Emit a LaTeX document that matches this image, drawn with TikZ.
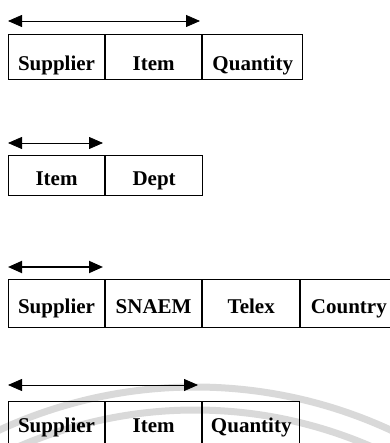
\documentclass[tikz,border=0pt]{standalone}
\usepackage{fontspec}
\setmainfont{Liberation Serif}
\usetikzlibrary{arrows.meta}
\tikzset{
  x=1pt, y=-1pt,
  cell/.style n args={3}{draw=black, line width=1.1pt, inner sep=0pt, anchor=north west,
    minimum width=#1, text height=#2, text depth=#3,
    font=\fontsize{21}{24}\selectfont\bfseries},
  span/.style={{Triangle[length=14pt,width=12pt]}-{Triangle[length=14pt,width=12pt]}, line width=0.8pt},
  spanbold/.style={span, line width=1.8pt},
  faint/.style={draw=black!15, line width=7pt}
}
\begin{document}
\begin{tikzpicture}
\useasboundingbox (0,0) rectangle (389,443);

% faint background arcs
\draw[faint] (195,853) ++(-145:466) arc[start angle=-145, end angle=-35, radius=466];
\draw[faint] (195,853) ++(-145:443) arc[start angle=-145, end angle=-35, radius=443];

% relation 1
\coordinate (a1l) at (8,21); \coordinate (a1r) at (200,21);
\draw[span] (a1l) -- (a1r);
\node[cell={96pt}{36pt}{9pt}] (r1a) at (8,34) {Supplier};
\node[cell={96pt}{36pt}{9pt}] (r1b) at (r1a.north east) {Item};
\node[cell={100pt}{36pt}{9pt}] (r1c) at (r1b.north east) {Quantity};

% relation 2
\coordinate (a2l) at (8,143); \coordinate (a2r) at (103,143);
\draw[span] (a2l) -- (a2r);
\node[cell={96pt}{30pt}{10pt}] (r2a) at (8,155) {Item};
\node[cell={97pt}{30pt}{10pt}] (r2b) at (r2a.north east) {Dept};

% relation 3
\coordinate (a3l) at (8,267); \coordinate (a3r) at (103,267);
\draw[spanbold] (a3l) -- (a3r);
\node[cell={96pt}{34pt}{14pt}] (r3a) at (8,279) {Supplier};
\node[cell={96pt}{34pt}{14pt}] (r3b) at (r3a.north east) {SNAEM};
\node[cell={97pt}{34pt}{14pt}] (r3c) at (r3b.north east) {Telex};
\node[cell={96pt}{34pt}{14pt}] (r3d) at (r3c.north east) {Country};

% relation 4
\coordinate (a4l) at (8,385); \coordinate (a4r) at (198,385);
\draw[span] (a4l) -- (a4r);
\node[cell={96pt}{31pt}{15pt}] (r4a) at (8,401) {Supplier};
\node[cell={96pt}{31pt}{15pt}] (r4b) at (r4a.north east) {Item};
\node[cell={97pt}{31pt}{15pt}] (r4c) at (r4b.north east) {Quantity};
\end{tikzpicture}
\end{document}
